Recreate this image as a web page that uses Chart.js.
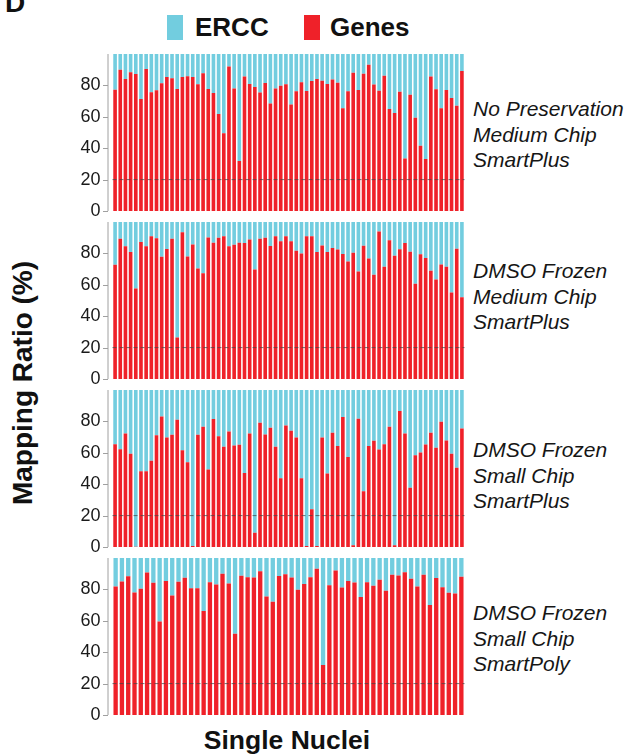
<!DOCTYPE html>
<html>
<head>
<meta charset="utf-8">
<script src="https://cdn.jsdelivr.net/npm/chart.js@4.4.0/dist/chart.umd.min.js"></script>
<style>
  body { margin: 0; background: #fff; }
  #wrap { position: relative; width: 627px; height: 756px; overflow: hidden; font-family: "Liberation Sans", Arial, sans-serif; color: #111; }
  canvas { position: absolute; left: 0; }
  .txt { position: absolute; white-space: nowrap; }
  .lab { position: absolute; left: 473px; font-style: italic; font-size: 21px; line-height: 25.5px; color: #161616; }
  .key { position: absolute; width: 16px; height: 25px; }
</style>
</head>
<body>
<div id="wrap">
  <div class="txt" style="left:5px;top:-13px;font-weight:bold;font-size:28px;">D</div>

  <div class="key" style="left:167px;top:15px;background:#72cddf;"></div>
  <div class="txt" style="left:195px;top:12px;font-weight:bold;font-size:26px;">ERCC</div>
  <div class="key" style="left:304px;top:15px;background:#ef2129;"></div>
  <div class="txt" style="left:330px;top:12px;font-weight:bold;font-size:26px;">Genes</div>

  <div class="txt" style="left:23px;top:383px;font-weight:bold;font-size:28px;transform:translate(-50%,-50%) rotate(-90deg);">Mapping Ratio (%)</div>
  <div class="txt" style="left:287px;top:725px;font-weight:bold;font-size:26.5px;transform:translateX(-50%);">Single Nuclei</div>

  <canvas id="c1" width="470" height="172" style="top:46px"></canvas>
  <canvas id="c2" width="470" height="172" style="top:214px"></canvas>
  <canvas id="c3" width="470" height="172" style="top:382px"></canvas>
  <canvas id="c4" width="470" height="172" style="top:550px"></canvas>

  <div class="lab" style="top:96px">No Preservation<br>Medium Chip<br>SmartPlus</div>
  <div class="lab" style="top:258px">DMSO Frozen<br>Medium Chip<br>SmartPlus</div>
  <div class="lab" style="top:437px">DMSO Frozen<br>Small Chip<br>SmartPlus</div>
  <div class="lab" style="top:600px">DMSO Frozen<br>Small Chip<br>SmartPoly</div>
</div>

<script>
// genes mapping ratio (%) per nucleus, ERCC is the rest up to 100
const genesNoPres = [77.3, 90, 84, 88.3, 87.3, 71.3, 90.4, 75.6, 76.9, 81.3, 85.4, 84.5, 77.7, 85.4, 85.8, 85.4, 80.7, 87.7, 77.7, 75.2,
  61.8, 49.5, 92.1, 78.1, 31.8, 85.6, 80.9, 79, 75.4, 81.5, 68.4, 78.1, 79.8, 80.7, 67.9, 76.2, 82, 76.4, 82.8, 84.1,
  83, 80.9, 83.7, 81.7, 65.4, 76.2, 88.1, 77.1, 87.5, 93.2, 80.5, 76.6, 86.2, 65, 62.4, 76, 33.5, 74.1, 59.4, 41.6,
  33.1, 85.6, 77.5, 65.4, 77.1, 72, 67.1, 89.2]
const genesFrozenMedium = [72.8, 89.4, 84.5, 80.9, 57.7, 87.2, 84.5, 90.9, 89.6, 77.9, 82.8, 89.4, 26.4, 93.4, 78.1, 85.7, 70.4, 67.4, 90.2, 86.8,
  90, 90.9, 84.5, 85.5, 86.8, 86.6, 88.9, 69.8, 89.4, 90, 84.7, 90.9, 87.7, 90.9, 87.7, 81.7, 80, 90.9, 90.9, 80.9,
  85.1, 80.9, 83.4, 82.5, 79.6, 74.9, 80.4, 68.5, 84.9, 76.8, 66.4, 94, 71.5, 88.3, 78.5, 82.6, 86.6, 81.1, 60.6, 79.4,
  77, 68.9, 63.4, 73, 71.5, 55.1, 83, 52.1]
const genesFrozenSmall = [65.5, 62.3, 72.3, 59.4, 0.2, 48.3, 48.3, 54.9, 71.1, 83.2, 69.8, 71.5, 81.1, 61.7, 54, 0.6, 71.5, 76.6, 49.4, 81.5,
  70.6, 63.8, 73.6, 64.7, 65.1, 47.2, 72.3, 9.1, 79.1, 71.7, 76, 63.8, 43.8, 77.4, 74, 69.8, 43.8, 0.6, 24, 0.6,
  69.8, 46.8, 72.8, 64.3, 82.8, 57.4, 1.1, 81.7, 35.5, 64.3, 67.7, 62.1, 65.5, 76.6, 1.1, 86.6, 72.3, 37.7, 58.5, 60.2,
  65.3, 72.8, 63.2, 79.8, 67.9, 59.4, 50.4, 75.5]
const genesSmartPoly = [81.9, 85.1, 88.3, 78, 80.4, 90.8, 84.2, 59.5, 85.3, 76.1, 84.9, 87.4, 80.8, 80.8, 66.3, 84.6, 83.2, 90, 83.8, 51.8,
  88.7, 87.8, 87.6, 91.5, 75.5, 72.1, 88.5, 89.6, 87.6, 79.7, 83.4, 87.8, 93.2, 31.8, 82.7, 92.1, 81.2, 85.3, 84.4, 75.1,
  84.6, 82.3, 86.1, 79.1, 89.3, 88.9, 91, 86.8, 81.9, 89.3, 70.1, 87.2, 81.4, 77.8, 77.4, 88.1]
const yTicks = [0, 20, 40, 60, 80]
const cutoff = 20

const RED = '#ef2129'
const CYAN = '#72cddf'

// y axis line with left ticks + dashed line at 20%
const axisPlugin = {
    id: 'axisPlugin',
    afterDatasetsDraw(chart) {
        const ctx = chart.ctx
        const y = chart.scales.y
        const a = chart.chartArea
        const ax = a.left - 4.5
        ctx.save()
        ctx.strokeStyle = '#a0a0a0'
        ctx.lineWidth = 1
        ctx.beginPath()
        ctx.moveTo(ax, y.getPixelForValue(100))
        ctx.lineTo(ax, y.getPixelForValue(0))
        yTicks.forEach(t => {
            const py = Math.round(y.getPixelForValue(t)) + 0.5
            ctx.moveTo(ax - 5, py)
            ctx.lineTo(ax, py)
        })
        ctx.stroke()
        ctx.strokeStyle = 'rgba(70,70,70,0.75)'
        ctx.setLineDash([4, 3])
        ctx.beginPath()
        const py = y.getPixelForValue(cutoff)
        ctx.moveTo(a.left, py)
        ctx.lineTo(a.right, py)
        ctx.stroke()
        ctx.restore()
    }
}

function makePanel(id, genes, barPct) {
    const labels = genes.map((v, i) => i + 1)
    new Chart(document.getElementById(id), {
        type: 'bar',
        data: {
            labels: labels,
            datasets: [
                { label: 'Genes', data: genes, backgroundColor: RED, barPercentage: barPct, categoryPercentage: 1 },
                { label: 'ERCC', data: genes.map(v => 100 - v), backgroundColor: CYAN, barPercentage: barPct, categoryPercentage: 1 }
            ]
        },
        options: {
            responsive: false,
            animation: false,
            devicePixelRatio: 1,
            layout: { padding: { top: 8, bottom: 7, left: 0, right: 5.5 } },
            plugins: { legend: { display: false }, tooltip: { enabled: false } },
            scales: {
                x: { stacked: true, display: false, offset: true },
                y: {
                    stacked: true,
                    min: 0,
                    max: 100,
                    afterFit: s => { s.width = 112.5; s.paddingTop = 0; s.paddingBottom = 0 },
                    afterBuildTicks: s => { s.ticks = yTicks.map(v => ({ value: v })) },
                    grid: { display: false, drawTicks: false },
                    border: { display: false },
                    ticks: { padding: 12, color: '#1a1a1a', font: { family: 'Liberation Sans', size: 18 } }
                }
            }
        },
        plugins: [axisPlugin]
    })
}

makePanel('c1', genesNoPres, 0.7)
makePanel('c2', genesFrozenMedium, 0.7)
makePanel('c3', genesFrozenSmall, 0.7)
makePanel('c4', genesSmartPoly, 0.69)
</script>
</body>
</html>
